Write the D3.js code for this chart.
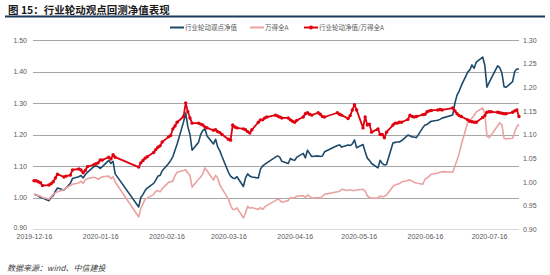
<!DOCTYPE html>
<html lang="zh">
<head>
<meta charset="UTF-8">
<title>行业轮动观点回测净值表现</title>
<script src="https://cdn.jsdelivr.net/npm/d3@7"></script>
<style>
  body { margin: 0; background: #fff; }
  svg text { font-family: "Liberation Sans", Arial, "Noto Sans CJK SC", sans-serif; }
  .cjk { font-family: "Noto Sans CJK SC", sans-serif !important; }
</style>
</head>
<body>
<script>
var width = 550, height = 275;

// trading calendar
var startDate = "2019-12-16", endDate = "2020-07-30";
var holidays = ["2020-01-01", "2020-01-24", "2020-01-27", "2020-01-28", "2020-01-29", "2020-01-30",
                "2020-01-31", "2020-04-06", "2020-05-01", "2020-05-04", "2020-05-05", "2020-06-25", "2020-06-26"];
var tickDates = ["2019-12-16", "2020-01-16", "2020-02-16", "2020-03-16", "2020-04-16", "2020-05-16", "2020-06-16", "2020-07-16"];
var leftTicks = [0.9, 1.0, 1.1, 1.2, 1.3, 1.4, 1.5];
var rightTicks = [0.9, 0.95, 1.0, 1.05, 1.1, 1.15, 1.2, 1.25, 1.3];
var seriesNames = ["行业轮动观点净值", "万得全A", "行业轮动净值/万得全A"];

// 行业轮动观点净值 (left axis)
var strategy = [
  1.010, 1.008, 1.005, 1.000, 0.998, 0.990, 1.000, 1.006, 1.020, 1.030, 1.024, 1.030,
  1.045, 1.060, 1.066, 1.070, 1.062, 1.072, 1.080, 1.098, 1.100, 1.098, 1.092, 1.098, 1.118, 1.108, 1.115, 1.075,
  0.970, 1.000, 1.010, 1.022, 1.030, 1.045, 1.055, 1.068, 1.070, 1.085, 1.108, 1.118, 1.130, 1.150, 1.170, 1.240, 1.268, 1.225, 1.200, 1.150,
  1.175, 1.200, 1.212, 1.218, 1.195, 1.170, 1.185, 1.160, 1.148, 1.130, 1.080, 1.068, 1.062, 1.060, 1.066, 1.035, 1.062, 1.075, 1.068, 1.065, 1.062, 1.090,
  1.100, 1.105, 1.110, 1.128, 1.132, 1.128, 1.115, 1.108, 1.124, 1.120, 1.118, 1.128, 1.140, 1.126, 1.150, 1.140, 1.130, 1.132, 1.130, 1.132, 1.145,
  1.165, 1.167, 1.160, 1.167, 1.165, 1.170, 1.183, 1.158, 1.168, 1.145, 1.125, 1.118, 1.108, 1.094, 1.118, 1.108, 1.103, 1.105,
  1.173, 1.175, 1.176, 1.176, 1.180, 1.198, 1.196, 1.192, 1.192, 1.190, 1.222, 1.230, 1.232, 1.238, 1.242, 1.245, 1.248, 1.252, 1.262, 1.300,
  1.325, 1.338, 1.355, 1.398, 1.405, 1.421, 1.410, 1.430, 1.446, 1.420, 1.350, 1.365, 1.378, 1.418, 1.412, 1.395, 1.352, 1.350, 1.368, 1.400, 1.408, 1.408
];

// 万得全A (left axis)
var windA = [
  1.010, 1.008, 1.006, 1.004, 1.000, 0.995, 1.002, 1.010, 1.015, 1.018, 1.025, 1.030,
  1.038, 1.042, 1.046, 1.052, 1.045, 1.056, 1.060, 1.064, 1.062, 1.058, 1.062, 1.066, 1.068, 1.060, 1.066, 1.049,
  0.938, 0.965, 0.980, 0.995, 0.998, 1.010, 1.020, 1.022, 1.018, 1.028, 1.048, 1.050, 1.052, 1.070, 1.080, 1.086, 1.088, 1.078, 1.070, 1.033,
  1.058, 1.065, 1.075, 1.094, 1.085, 1.055, 1.070, 1.062, 1.040, 1.028, 0.995, 0.975, 0.962, 0.962, 0.967, 0.935, 0.950, 0.972, 0.966, 0.968, 0.962, 0.968,
  0.962, 0.970, 0.975, 0.990, 0.995, 0.992, 0.985, 0.990, 1.000, 0.998, 1.000, 1.004, 1.006, 1.000, 1.008, 1.004, 0.998, 1.000, 0.998, 1.004, 1.010,
  1.018, 1.020, 1.026, 1.022, 1.025, 1.022, 1.022, 1.024, 1.026, 1.020, 1.005, 1.000, 0.998, 0.998, 1.005, 1.002, 1.004, 1.008,
  1.035, 1.040, 1.042, 1.044, 1.049, 1.054, 1.056, 1.052, 1.048, 1.046, 1.042, 1.058, 1.062, 1.068, 1.074, 1.078, 1.080, 1.082, 1.080, 1.100,
  1.118, 1.140, 1.168, 1.238, 1.245, 1.252, 1.260, 1.272, 1.284, 1.268, 1.195, 1.190, 1.198, 1.228, 1.237, 1.230, 1.188, 1.186, 1.188, 1.208, 1.225, 1.232
];

// 行业轮动净值/万得全A (right axis)
var ratio = [
  1.002, 1.002, 1.000, 0.998, 0.992, 0.993, 0.996, 1.000, 1.008, 1.016, 1.010, 1.012,
  1.014, 1.025, 1.027, 1.025, 1.019, 1.024, 1.032, 1.036, 1.038, 1.040, 1.046, 1.046, 1.052, 1.048, 1.057, 1.052,
  1.031, 1.040, 1.045, 1.050, 1.053, 1.062, 1.068, 1.073, 1.076, 1.084, 1.095, 1.098, 1.112, 1.118, 1.126, 1.138, 1.167, 1.148, 1.135, 1.124,
  1.124, 1.122, 1.120, 1.116, 1.114, 1.109, 1.110, 1.106, 1.104, 1.100, 1.090, 1.088, 1.120, 1.116, 1.114, 1.112, 1.110, 1.106, 1.103, 1.110, 1.126, 1.131,
  1.131, 1.135, 1.137, 1.141, 1.139, 1.137, 1.135, 1.135, 1.131, 1.128, 1.126, 1.130, 1.137, 1.144, 1.146, 1.143, 1.141, 1.146, 1.143, 1.138, 1.137,
  1.146, 1.143, 1.141, 1.134, 1.140, 1.152, 1.163, 1.152, 1.114, 1.137, 1.120, 1.122, 1.105, 1.112, 1.100, 1.100, 1.093, 1.105,
  1.120, 1.124, 1.124, 1.126, 1.126, 1.132, 1.141, 1.138, 1.137, 1.138, 1.142, 1.143, 1.148, 1.150, 1.151, 1.152, 1.153, 1.152, 1.156, 1.150,
  1.144, 1.140, 1.138, 1.131, 1.128, 1.127, 1.126, 1.126, 1.136, 1.140, 1.147, 1.148, 1.148, 1.147, 1.146, 1.145, 1.144, 1.144, 1.147, 1.150, 1.152, 1.138
];

var parse = d3.timeParse("%Y-%m-%d");
var fmtDay = d3.timeFormat("%Y-%m-%d");
var dates = d3.timeDay.range(parse(startDate), d3.timeDay.offset(parse(endDate), 1))
  .filter(function(d) {
    var w = d.getDay();
    return w != 0 && w != 6 && holidays.indexOf(fmtDay(d)) < 0;
  });

var plot = { left: 33, right: 519, top: 40, bottom: 229 };
var colors = { strategy: "#1d4a6b", windA: "#eaa2a2", ratio: "#e1000f" };

var svg = d3.select("body").append("svg").attr("width", width).attr("height", height);
svg.append("rect").attr("width", width).attr("height", height).attr("fill", "#fff");

// 标题
svg.append("text").attr("class", "cjk")
   .attr("x", 8).attr("y", 13.5)
   .attr("font-size", 10.5).attr("font-weight", "bold").attr("fill", "#1a1a1a")
   .text("图 15：行业轮动观点回测净值表现");
svg.append("line")
   .attr("x1", 5).attr("x2", 545).attr("y1", 16.5).attr("y2", 16.5)
   .attr("stroke", "#1f3a5f").attr("stroke-width", 2);

var xScale = d3.scaleTime().domain([parse(startDate), parse(endDate)]).range([34, plot.right]);
var yLeft = d3.scaleLinear().domain([0.9, 1.5]).range([plot.bottom, plot.top]);
var yRight = d3.scaleLinear().domain([0.9, 1.3]).range([plot.bottom, plot.top]);

// 网格线
svg.append("g").selectAll("line")
   .data(leftTicks.slice(1))
   .enter().append("line")
   .attr("x1", plot.left).attr("x2", plot.right)
   .attr("y1", function(d) { return Math.round(yLeft(d)) + 0.5; })
   .attr("y2", function(d) { return Math.round(yLeft(d)) + 0.5; })
   .attr("stroke", "#a6a6a6").attr("stroke-width", 1);

// x 轴
var xAxis = d3.axisBottom(xScale)
  .tickValues(tickDates.map(parse))
  .tickFormat(fmtDay).tickSize(0).tickPadding(5);
var gx = svg.append("g").attr("transform", "translate(0," + plot.bottom + ")").call(xAxis);
gx.select(".domain").attr("d", "M" + plot.left + ",0.5H" + plot.right).attr("stroke", "#d9d9d9");
gx.selectAll("text").attr("font-size", 7).attr("fill", "#595959")
  .attr("font-family", "Liberation Sans, Arial, sans-serif");

// 左轴
var gl = svg.append("g").attr("transform", "translate(" + 27 + ",0)")
  .call(d3.axisLeft(yLeft).tickValues(leftTicks).tickFormat(d3.format(".2f")).tickSize(0).tickPadding(0));
gl.select(".domain").remove();
gl.selectAll("text").attr("font-size", 7).attr("fill", "#595959")
  .attr("font-family", "Liberation Sans, Arial, sans-serif");
gl.selectAll(".tick").filter(function(d) { return d == 0.9; }).select("text").attr("dy", "0.1em");

// 右轴
var gr = svg.append("g").attr("transform", "translate(" + 523 + ",0)")
  .call(d3.axisRight(yRight).tickValues(rightTicks).tickFormat(d3.format(".2f")).tickSize(0).tickPadding(0));
gr.select(".domain").remove();
gr.selectAll("text").attr("font-size", 7).attr("fill", "#595959")
  .attr("font-family", "Liberation Sans, Arial, sans-serif");

function series(values) {
  return dates.map(function(d, i) { return { date: d, value: values[i] }; })
    .filter(function(p) { return p.value != null; });
}

var leftLine = d3.line().x(function(p) { return xScale(p.date); }).y(function(p) { return yLeft(p.value); });
var rightLine = d3.line().x(function(p) { return xScale(p.date); }).y(function(p) { return yRight(p.value); });

svg.append("path").datum(series(strategy))
   .attr("fill", "none").attr("stroke", colors.strategy).attr("stroke-width", 1.6)
   .attr("stroke-linejoin", "round").attr("d", leftLine);
svg.append("path").datum(series(windA))
   .attr("fill", "none").attr("stroke", colors.windA).attr("stroke-width", 1.6)
   .attr("stroke-linejoin", "round").attr("d", leftLine);

var ratioData = series(ratio);
svg.append("path").datum(ratioData)
   .attr("fill", "none").attr("stroke", colors.ratio).attr("stroke-width", 1.8)
   .attr("stroke-linejoin", "round").attr("d", rightLine);
svg.append("g").selectAll("circle")
   .data(ratioData).enter().append("circle")
   .attr("cx", function(p) { return xScale(p.date); })
   .attr("cy", function(p) { return yRight(p.value); })
   .attr("r", 1.7).attr("fill", colors.ratio);

// 图例
var legend = [
  { name: seriesNames[0], color: colors.strategy, x: 170, marker: false },
  { name: seriesNames[1], color: colors.windA, x: 250, marker: false },
  { name: seriesNames[2], color: colors.ratio, x: 304, marker: true }
];
var lg = svg.append("g").selectAll("g").data(legend).enter().append("g")
  .attr("transform", function(d) { return "translate(" + d.x + ",27.5)"; });
lg.append("line").attr("x1", 0).attr("x2", 14).attr("stroke", function(d) { return d.color; }).attr("stroke-width", 2);
lg.filter(function(d) { return d.marker; }).append("circle").attr("cx", 7).attr("r", 2).attr("fill", function(d) { return d.color; });
lg.append("text").attr("class", "cjk").attr("x", 15).attr("y", 2.3)
  .attr("font-size", 6.5).attr("fill", "#595959")
  .text(function(d) { return d.name; });

// 数据来源
svg.append("text").attr("class", "cjk")
   .attr("x", 7).attr("y", 271)
   .attr("font-size", 8).attr("font-style", "italic").attr("fill", "#404040")
   .text("数据来源：wind、中信建投");
</script>
</body>
</html>
